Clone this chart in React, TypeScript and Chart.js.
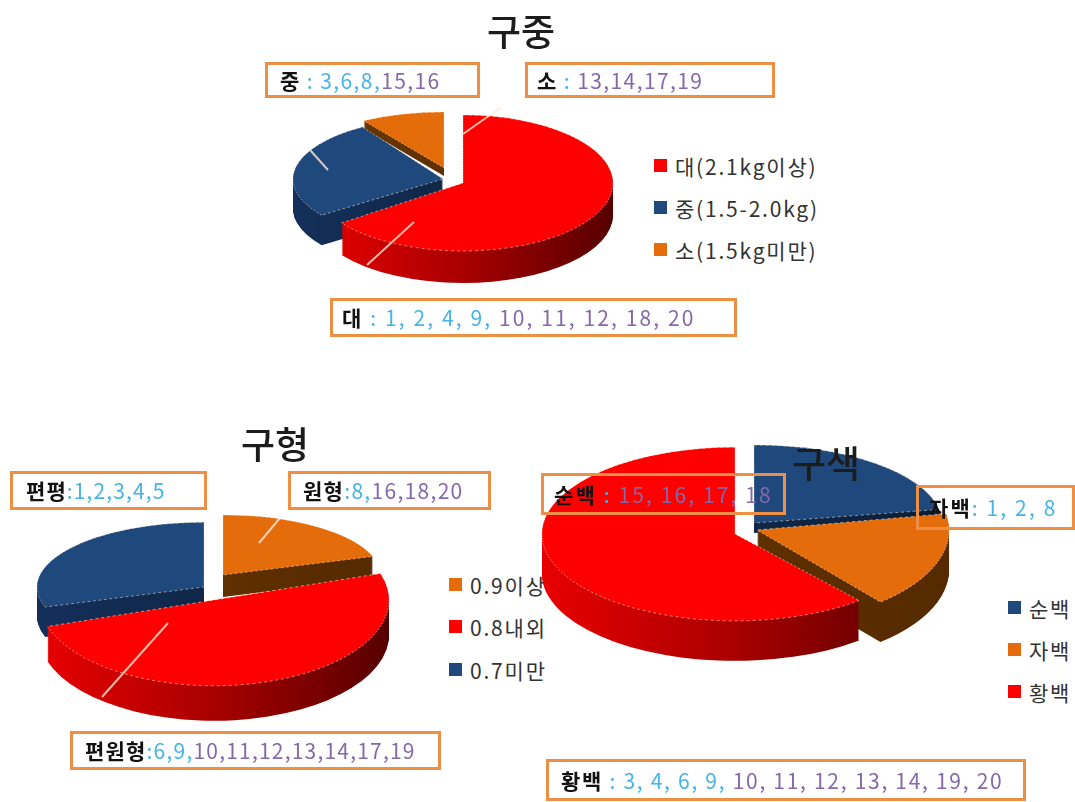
import React, { useEffect, useRef } from "react";
import { Chart, registerables } from "chart.js";

Chart.register(...registerables);

const FONT = '"Noto Sans CJK KR", "Noto Sans", sans-serif';
const RED = "#ff0000";
const NAVY = "#1f497d";
const ORANGE = "#e46c0a";
const BOX_ORANGE = "#ee8f45";
const NO_BLUE = "#45b4e6";
const NO_PURPLE = "#8468ab";

// Fruit weight
const weightTitle = "구중";
const weightLabels = ["대(2.1kg이상)", "중(1.5-2.0kg)", "소(1.5kg미만)"];
const weightValues = [65, 26, 9];
const weightColors = [RED, NAVY, ORANGE];

// Fruit shape
const shapeTitle = "구형";
const shapeLabels = ["0.9이상", "0.8내외", "0.7미만"];
const shapeValues = [20, 50, 30];
const shapeColors = [ORANGE, RED, NAVY];

// Fruit colour
const colourTitle = "구색";
const colourLabels = ["순백", "자백", "황백"];
const colourValues = [4, 3, 11];
const colourColors = [NAVY, ORANGE, RED];

// Line numbers belonging to each class
const weightLarge = [1, 2, 4, 9, 10, 11, 12, 18, 20];
const weightMedium = [3, 6, 8, 15, 16];
const weightSmall = [13, 14, 17, 19];
const shapeFlat = [1, 2, 3, 4, 5];
const shapeRound = [8, 16, 18, 20];
const shapeOblate = [6, 9, 10, 11, 12, 13, 14, 17, 19];
const colourPure = [15, 16, 17, 18];
const colourPurple = [1, 2, 8];
const colourYellow = [3, 4, 6, 9, 10, 11, 12, 13, 14, 19, 20];

type Slice = { dx: number; dy: number; sx: number; sy: number; depth: number; layer: number; wall: string[] };

const WALL_RED = ["#e80000", "#a80000", "#560000"];
const WALL_NAVY = ["#14305a", "#0f2748", "#0b1e38"];
const WALL_ORANGE = ["#6e3a04", "#5f3000", "#552a00"];

// A tilted 3-D look: each slice gets its own flattening, lift and wall height.
const pie3d = {
  id: "pie3d",
  beforeDatasetDraw(chart: any) {
    const slices: Slice[] = chart.options.plugins.pie3d.slices;
    const ctx: CanvasRenderingContext2D = chart.ctx;
    const arcs: any[] = chart.getDatasetMeta(0).data;
    const order = arcs.map((_, i) => i).sort((a, b) => slices[a].layer - slices[b].layer);
    const cx = arcs[0].x;
    const cy = arcs[0].y;
    const place = (s: Slice, lift: number) => {
      ctx.translate(cx + s.dx, cy + s.dy + lift);
      ctx.scale(s.sx, s.sy);
      ctx.translate(-cx, -cy);
    };
    for (const i of order) {
      const s = slices[i];
      const a = arcs[i];
      const g = ctx.createLinearGradient(cx - a.outerRadius, 0, cx + a.outerRadius, 0);
      g.addColorStop(0, s.wall[0]);
      g.addColorStop(0.5, s.wall[1]);
      g.addColorStop(1, s.wall[2]);
      for (let d = s.depth; d >= 1; d--) {
        ctx.save();
        place(s, d);
        ctx.beginPath();
        ctx.moveTo(cx, cy);
        ctx.arc(cx, cy, a.outerRadius, a.startAngle, a.endAngle);
        ctx.closePath();
        ctx.fillStyle = g;
        ctx.fill();
        ctx.restore();
      }
    }
    for (const i of order) {
      ctx.save();
      place(slices[i], 0);
      arcs[i].draw(ctx);
      ctx.restore();
    }
    return false;
  },
};

type PieProps = { values: number[]; labels: string[]; colors: string[]; cx: number; cy: number; radius: number; slices: Slice[]; z: number };

function Pie({ values, labels, colors, cx, cy, radius, slices, z }: PieProps) {
  const ref = useRef<HTMLCanvasElement>(null);
  const size = 2 * radius + 60;
  useEffect(() => {
    const chart = new Chart(ref.current!, {
      type: "pie",
      data: {
        labels,
        datasets: [{
          data: values,
          backgroundColor: colors,
          borderColor: "rgba(255,228,200,0.8)",
          borderWidth: 1,
          borderDash: [3, 3],
        }],
      },
      options: {
        animation: false,
        responsive: false,
        devicePixelRatio: 1,
        radius,
        plugins: { legend: { display: false }, tooltip: { enabled: false }, pie3d: { slices } },
      },
      plugins: [pie3d],
    } as any);
    return () => chart.destroy();
  }, []);
  return (
    <canvas
      ref={ref}
      width={size}
      height={size}
      style={{ position: "absolute", left: cx - size / 2, top: cy - size / 2, width: size, height: size, zIndex: z }}
    />
  );
}

function Title({ text, x, y }: { text: string; x: number; y: number }) {
  return (
    <div style={{ position: "absolute", left: x - 60, top: y - 25, width: 120, height: 50, lineHeight: "50px", textAlign: "center", fontFamily: FONT, fontSize: 37, fontWeight: 500, color: "#1c1c1c", zIndex: 5 }}>
      {text}
    </div>
  );
}

type BoxProps = { x: number; y: number; w: number; h: number; label: string; sep: string; nos: number[]; join: string; pad: number; track: number };

function Box({ x, y, w, h, label, sep, nos, join, pad, track }: BoxProps) {
  return (
    <div style={{ position: "absolute", left: x, top: y, width: w, height: h, boxSizing: "border-box", border: `3px solid ${BOX_ORANGE}`, lineHeight: `${h - 6}px`, paddingLeft: pad, fontFamily: FONT, fontSize: 21, letterSpacing: track, whiteSpace: "nowrap", overflow: "hidden", zIndex: 4 }}>
      <span style={{ color: "#111", fontWeight: 700 }}>{label}</span>
      <span style={{ color: NO_BLUE }}>{sep}</span>
      {nos.map((n, i) => (
        <span key={n} style={{ color: n < 10 ? NO_BLUE : NO_PURPLE }}>
          {n}
          {i < nos.length - 1 ? join : ""}
        </span>
      ))}
    </div>
  );
}

function Legend({ labels, colors, x, ys, z }: { labels: string[]; colors: string[]; x: number; ys: number[]; z: number }) {
  return (
    <>
      {labels.map((t, i) => (
        <div key={t} style={{ position: "absolute", left: x, top: ys[i] - 15, height: 30, lineHeight: "30px", whiteSpace: "nowrap", fontFamily: FONT, fontSize: 21, letterSpacing: 1.8, color: "#333", zIndex: z }}>
          <span style={{ position: "absolute", left: 0, top: 8, width: 13, height: 13, background: colors[i] }} />
          <span style={{ position: "absolute", left: 21, top: 0 }}>{t}</span>
        </div>
      ))}
    </>
  );
}

export default function App() {
  return (
    <div style={{ position: "absolute", left: 0, top: 0, width: 1075, height: 802, overflow: "hidden", background: "#fff" }}>
      <Pie
        values={weightValues} labels={weightLabels} colors={weightColors} cx={463} cy={183} radius={150} z={1}
        slices={[
          { dx: 0, dy: 0, sx: 1, sy: 0.453, depth: 32, layer: 2, wall: WALL_RED },
          { dx: -20, dy: -4, sx: 1, sy: 0.41, depth: 30, layer: 1, wall: WALL_NAVY },
          { dx: -19, dy: -15, sx: 1, sy: 0.373, depth: 8, layer: 0, wall: WALL_ORANGE },
        ]}
      />
      <Pie
        values={shapeValues} labels={shapeLabels} colors={shapeColors} cx={214} cy={600} radius={175} z={1}
        slices={[
          { dx: 9, dy: -25, sx: 0.9, sy: 0.343, depth: 22, layer: 0, wall: WALL_ORANGE },
          { dx: 0, dy: 0, sx: 1, sy: 0.49, depth: 35, layer: 2, wall: WALL_RED },
          { dx: -10, dy: -13, sx: 0.954, sy: 0.37, depth: 30, layer: 1, wall: WALL_NAVY },
        ]}
      />
      <Legend labels={weightLabels} colors={weightColors} x={654} ys={[166, 208, 250]} z={1} />
      <Legend labels={shapeLabels} colors={shapeColors} x={449} ys={[585, 627, 670]} z={1} />
      <Pie
        values={colourValues} labels={colourLabels} colors={colourColors} cx={735} cy={534} radius={193} z={2}
        slices={[
          { dx: 19, dy: -11, sx: 0.974, sy: 0.404, depth: 10, layer: 0, wall: WALL_NAVY },
          { dx: 22, dy: -4, sx: 0.995, sy: 0.487, depth: 40, layer: 1, wall: WALL_ORANGE },
          { dx: 0, dy: 0, sx: 1, sy: 0.45, depth: 40, layer: 2, wall: WALL_RED },
        ]}
      />
      <Legend labels={colourLabels} colors={colourColors} x={1008} ys={[608, 650, 692]} z={3} />

      <svg width={1075} height={802} style={{ position: "absolute", left: 0, top: 0, zIndex: 3 }}>
        <g stroke="rgba(255,232,212,0.8)" strokeWidth={2}>
          <line x1={310} y1={150} x2={328} y2={170} />
          <line x1={463} y1={134} x2={500} y2={108} />
          <line x1={414} y1={222} x2={367} y2={265} />
          <line x1={280} y1={518} x2={259} y2={543} />
          <line x1={168} y1={623} x2={102} y2={697} />
        </g>
      </svg>

      <Title text={weightTitle} x={521} y={30} />
      <Title text={shapeTitle} x={275} y={443} />
      <Title text={colourTitle} x={826} y={462} />

      <Box x={265} y={62} w={215} h={36} label="중" sep=" : " nos={weightMedium} join="," pad={12} track={1.4} />
      <Box x={525} y={62} w={250} h={36} label="소" sep=" : " nos={weightSmall} join="," pad={9} track={1.4} />
      <Box x={330} y={298} w={407} h={39} label="대" sep=" : " nos={weightLarge} join=", " pad={9} track={2.1} />
      <Box x={10} y={471} w={197} h={39} label="편평" sep=":" nos={shapeFlat} join="," pad={13} track={1.1} />
      <Box x={288} y={471} w={203} h={39} label="원형" sep=":" nos={shapeRound} join="," pad={12} track={1.3} />
      <Box x={70} y={731} w={371} h={39} label="편원형" sep=":" nos={shapeOblate} join="," pad={12} track={1.2} />
      <Box x={541} y={473} w={245} h={42} label="순백" sep=" : " nos={colourPure} join=", " pad={10} track={2.1} />
      <Box x={916} y={485} w={159} h={45} label="자백" sep=": " nos={colourPurple} join=", " pad={10} track={2.1} />
      <Box x={546} y={759} w={480} h={42} label="황백" sep=" : " nos={colourYellow} join=", " pad={12} track={1.7} />
    </div>
  );
}
